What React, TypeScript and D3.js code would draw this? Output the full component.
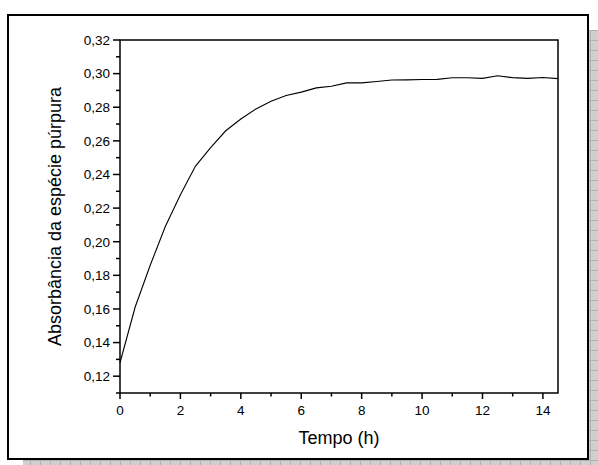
import React from "react";
import * as d3 from "d3";

// time (h) and absorbance
const tempo = [0, 0.5, 1, 1.5, 2, 2.5, 3, 3.5, 4, 4.5, 5, 5.5, 6, 6.5, 7, 7.5, 8, 8.5, 9, 9.5, 10, 10.5, 11, 11.5, 12, 12.5, 13, 13.5, 14, 14.5];
const absorbancia = [0.128, 0.161, 0.186, 0.209, 0.228, 0.245, 0.256, 0.266, 0.273, 0.279, 0.2835, 0.287, 0.289, 0.2915, 0.2925, 0.2945, 0.2945, 0.2953, 0.2962, 0.2963, 0.2965, 0.2966, 0.2975, 0.2975, 0.2972, 0.2987, 0.2976, 0.2972, 0.2977, 0.297];
const xMajor = [0, 2, 4, 6, 8, 10, 12, 14];
const xMinor = [1, 3, 5, 7, 9, 11, 13];
const yMajor = [0.12, 0.14, 0.16, 0.18, 0.2, 0.22, 0.24, 0.26, 0.28, 0.3, 0.32];
const yMinor = [0.11, 0.13, 0.15, 0.17, 0.19, 0.21, 0.23, 0.25, 0.27, 0.29, 0.31];

const W = 598;
const H = 465;
const plot = { left: 120, top: 40, right: 558, bottom: 393 };
const font = "Liberation Sans, Arial, sans-serif";

const ptBR = d3.formatLocale({ decimal: ",", thousands: ".", grouping: [3], currency: ["", ""] });
const fmtY = ptBR.format(".2f");

export default function App() {
  const x = d3.scaleLinear().domain([0, 14.5]).range([plot.left, plot.right]);
  const y = d3.scaleLinear().domain([0.11, 0.32]).range([plot.bottom, plot.top]);

  const line = d3
    .line<number>()
    .x((_, i) => x(tempo[i]))
    .y((d) => y(d));

  return (
    <svg
      width={W}
      height={H}
      style={{ position: "absolute", left: 0, top: 0, background: "#fff" }}
      fontFamily={font}
    >
      <defs>
        <pattern id="shadow" width={10} height={10} patternUnits="userSpaceOnUse">
          <rect width={10} height={10} fill="#cfcfcf" />
          <path d="M0,0.5H10M0.5,0V10" stroke="#b2b2b2" strokeWidth={1} />
        </pattern>
      </defs>

      {/* frame with drop shadow */}
      <rect x={23} y={30} width={580} height={444} fill="url(#shadow)" />
      <rect x={8} y={15} width={580} height={444} fill="#fff" stroke="#000" strokeWidth={2} />

      {/* plot box */}
      <rect
        x={plot.left}
        y={plot.top}
        width={plot.right - plot.left}
        height={plot.bottom - plot.top}
        fill="none"
        stroke="#000"
        strokeWidth={1.5}
      />

      {/* y ticks */}
      {yMajor.map((v) => (
        <g key={"ym" + v}>
          <line x1={plot.left - 7} x2={plot.left} y1={y(v)} y2={y(v)} stroke="#000" strokeWidth={1.5} />
          <text x={plot.left - 10} y={y(v)} dy="0.36em" textAnchor="end" fontSize={13.5}>
            {fmtY(v)}
          </text>
        </g>
      ))}
      {yMinor.map((v) => (
        <line key={"yn" + v} x1={plot.left - 4} x2={plot.left} y1={y(v)} y2={y(v)} stroke="#000" strokeWidth={1.5} />
      ))}

      {/* x ticks */}
      {xMajor.map((v) => (
        <g key={"xm" + v}>
          <line x1={x(v)} x2={x(v)} y1={plot.bottom} y2={plot.bottom + 6} stroke="#000" strokeWidth={1.5} />
          <text x={x(v)} y={plot.bottom + 22} textAnchor="middle" fontSize={13.5}>
            {v}
          </text>
        </g>
      ))}
      {xMinor.map((v) => (
        <line key={"xn" + v} x1={x(v)} x2={x(v)} y1={plot.bottom} y2={plot.bottom + 3.5} stroke="#000" strokeWidth={1.5} />
      ))}

      {/* curve */}
      <path d={line(absorbancia) ?? ""} fill="none" stroke="#000" strokeWidth={1.1} />

      {/* axis titles */}
      <text x={(plot.left + plot.right) / 2} y={444} textAnchor="middle" fontSize={18}>
        Tempo (h)
      </text>
      <text
        transform={`translate(61,${(plot.top + plot.bottom) / 2}) rotate(-90)`}
        textAnchor="middle"
        fontSize={18}
      >
        Absorbância da espécie púrpura
      </text>
    </svg>
  );
}
